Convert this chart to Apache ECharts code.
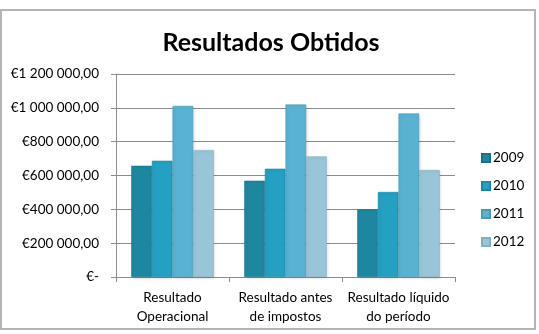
<!DOCTYPE html>
<html>
<head>
<meta charset="utf-8">
<script src="https://cdn.jsdelivr.net/npm/echarts@6/dist/echarts.min.js"></script>
<style>
  html, body { margin: 0; padding: 0; background: #fff; }
  #chart { width: 539px; height: 334px; }
</style>
</head>
<body>
<div id="chart"></div>
<script>
(function () {
    'use strict';
    // dados
    var categorias = ['Resultado\nOperacional', 'Resultado antes\nde impostos', 'Resultado líquido\ndo período'];
    var anos = ['2009', '2010', '2011', '2012'];
    var v2009 = [657000, 569000, 400000];
    var v2010 = [687000, 640000, 502000];
    var v2011 = [1011000, 1020000, 967000];
    var v2012 = [750000, 713000, 632000];
    var valores = [v2009, v2010, v2011, v2012];
    var cores = ['#1e87a0', '#23a0c2', '#5ab2d2', '#98c6d8'];
    var bordas = ['#18708a', '#1d88a6', '#4a9bb9', '#82afc2'];

    var fonte = 'Lato, "Open Sans", sans-serif';

    function formatEuro(v) {
        if (v === 0) return '€-';
        var s = String(Math.round(v));
        s = s.replace(/\B(?=(\d{3})+(?!\d))/g, ' ');
        return '€' + s + ',00';
    }

    var myChart = echarts.init(document.getElementById('chart'));

    var series = anos.map(function (ano, i) {
        return {
            name: ano,
            type: 'bar',
            barGap: '0%',
            barCategoryGap: '27%',
            data: valores[i],
            itemStyle: {
                color: cores[i],
                borderColor: bordas[i],
                borderWidth: 0.5,
                shadowColor: 'rgba(0,0,0,0.18)',
                shadowBlur: 3,
                shadowOffsetX: 1,
                shadowOffsetY: 1
            }
        };
    });

    var option = {
        backgroundColor: '#fff',
        animation: false,
        title: {
            text: 'Resultados Obtidos',
            left: 266,
            textAlign: 'center',
            top: 25,
            textStyle: {
                fontFamily: fonte,
                fontSize: 25,
                fontWeight: 'bold',
                color: '#000'
            }
        },
        graphic: [{
            type: 'rect',
            shape: { x: 1, y: 10, width: 534, height: 319 },
            style: { fill: 'none', stroke: '#b4b4b4', lineWidth: 2 },
            silent: true
        }],
        legend: {
            orient: 'vertical',
            left: 476,
            top: 146,
            itemWidth: 8,
            itemHeight: 8,
            itemGap: 14,
            icon: 'rect',
            textStyle: { fontFamily: fonte, fontSize: 13.5, color: '#000', padding: [0, 0, 0, -2] },
            data: anos
        },
        grid: {
            left: 116,
            right: 84,
            top: 74,
            bottom: 57
        },
        xAxis: {
            type: 'category',
            data: categorias,
            axisLine: { lineStyle: { color: '#8c8c8c', width: 1 } },
            axisTick: { show: true, length: 5, lineStyle: { color: '#8c8c8c' } },
            axisLabel: {
                interval: 0,
                fontFamily: fonte,
                fontSize: 13.5,
                color: '#000',
                lineHeight: 19,
                margin: 11
            }
        },
        yAxis: {
            type: 'value',
            min: 0,
            max: 1200000,
            interval: 200000,
            axisLine: { show: true, lineStyle: { color: '#8c8c8c', width: 1 } },
            axisTick: { show: true, length: 5, lineStyle: { color: '#8c8c8c' } },
            splitLine: { lineStyle: { color: '#8c8c8c', width: 1 } },
            axisLabel: {
                fontFamily: fonte,
                fontSize: 13.5,
                color: '#000',
                margin: 17,
                formatter: formatEuro
            }
        },
        series: series
    };

    myChart.setOption(option);
    window.addEventListener('resize', function () {
        myChart.resize();
    });
})();
</script>
</body>
</html>
